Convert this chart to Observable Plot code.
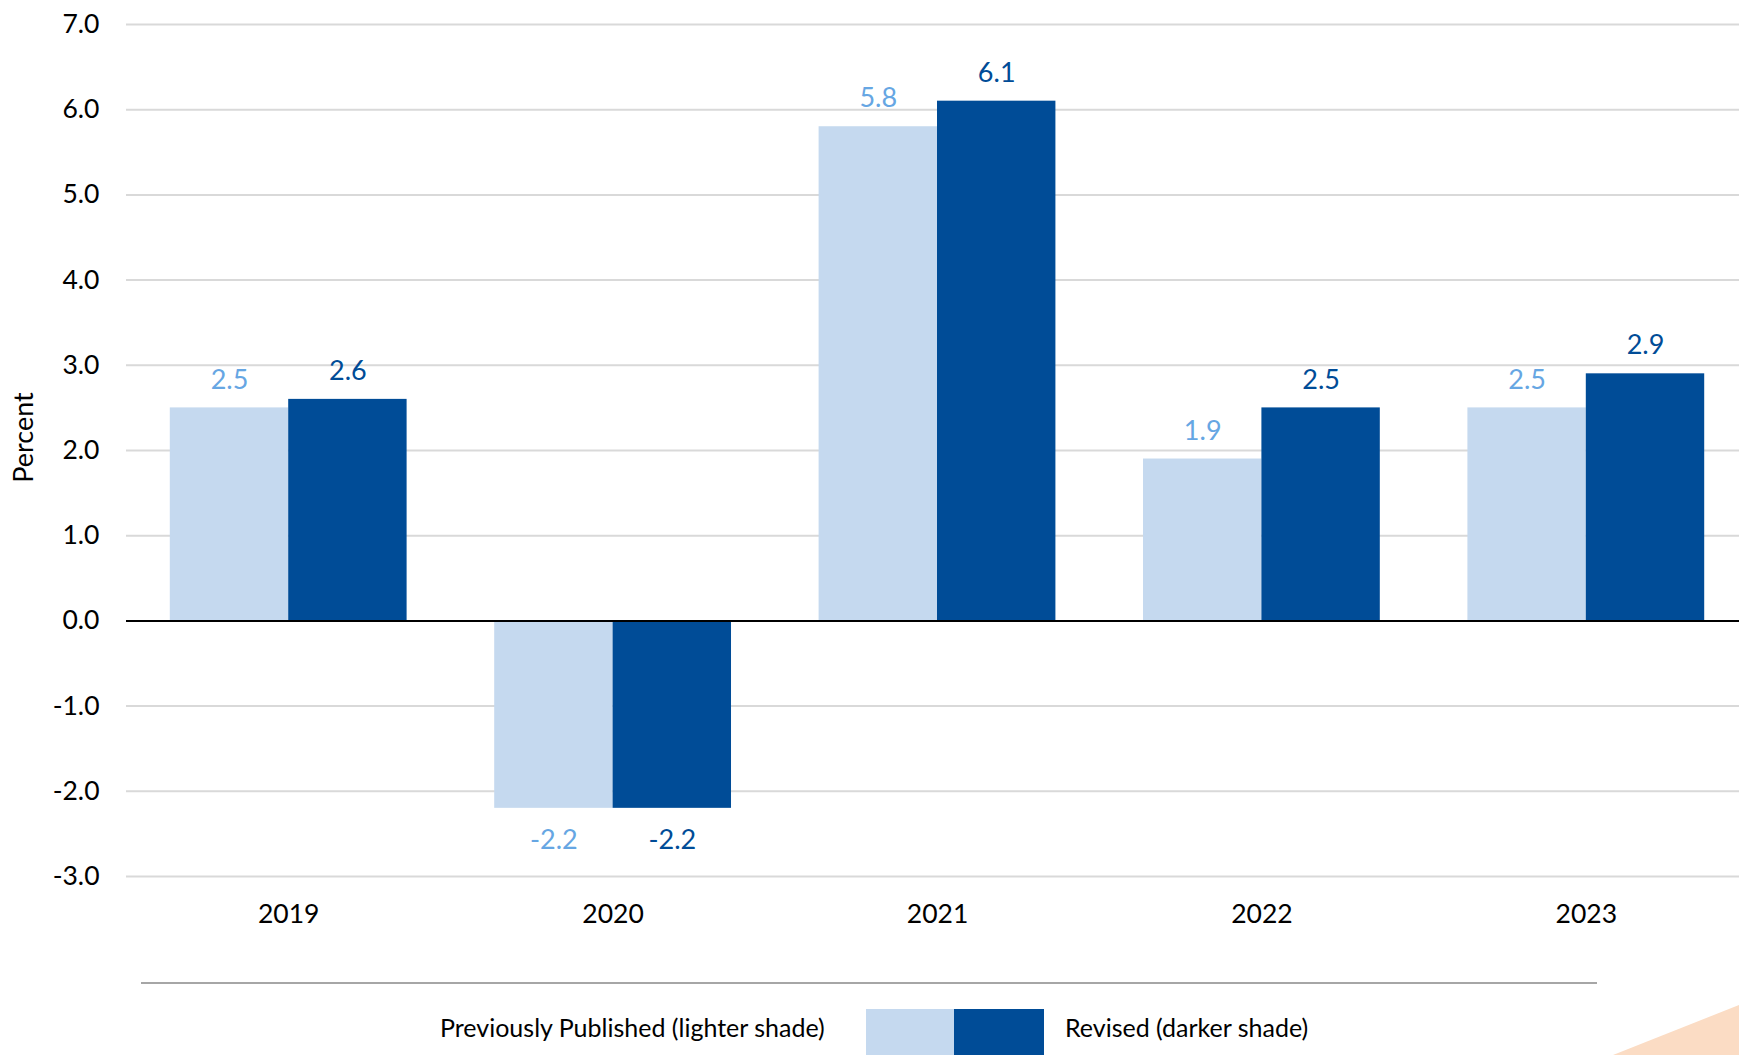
<!DOCTYPE html>
<html>
<head>
<meta charset="utf-8">
<script src="https://cdn.jsdelivr.net/npm/d3@7"></script>
<script src="https://cdn.jsdelivr.net/npm/@observablehq/plot@0.6"></script>
<style>
  html, body { margin: 0; padding: 0; background: #fff; overflow: hidden; }
  #page { position: relative; width: 1739px; height: 1055px; font-family: Lato, "Open Sans", sans-serif; }
  #chart { position: absolute; left: 0; top: 0; }
  #sep { position: absolute; left: 141px; top: 982px; width: 1456px; height: 2px; background: #a6a6a6; }
  .legtext { position: absolute; font-size: 25px; color: #000; line-height: 1; white-space: nowrap; }
  .sw { position: absolute; top: 1009px; height: 50px; }
  #corner { position: absolute; left: 1613px; top: 1005px; width: 126px; height: 50px; background: #fbdcc4; clip-path: polygon(0 100%, 100% 0, 100% 100%); }
</style>
</head>
<body>
<div id="page">
  <div id="chart"></div>
  <div id="sep"></div>
  <div id="legend"></div>
  <div id="corner"></div>
</div>
<script>
// ---- data ----
const years = [2019, 2020, 2021, 2022, 2023];
const previouslyPublished = [2.5, -2.2, 5.8, 1.9, 2.5];
const revised = [2.6, -2.2, 6.1, 2.5, 2.9];
const yTicks = [-3, -2, -1, 0, 1, 2, 3, 4, 5, 6, 7];
const seriesNames = ["Previously Published (lighter shade)", "Revised (darker shade)"];

// ---- styles ----
const lightFill = "#c5d9ef";
const darkFill = "#004c97";
const lightText = "#66a6e3";
const darkText = "#004c97";
const barW = 0.365;

const prev = years.map((year, i) => ({year, value: previouslyPublished[i]}));
const rev = years.map((year, i) => ({year, value: revised[i]}));

const fmt = d => d.toFixed(1);

const chart = Plot.plot({
  width: 1739,
  height: 945,
  marginTop: 24,
  marginBottom: 69,
  marginLeft: 126,
  marginRight: 0,
  style: {fontFamily: "Lato, 'Open Sans', sans-serif", fontSize: "26.5px", color: "#000", background: "#fff", overflow: "visible"},
  x: {type: "linear", domain: [2018.5, 2023.5], range: [126, 1748], ticks: years, tickFormat: d => String(d), tickSize: 0, tickPadding: 28, label: null},
  y: {domain: [-3, 7], ticks: yTicks, tickFormat: fmt, tickSize: 0, tickPadding: 27, label: null},
  marks: [
    Plot.ruleY(yTicks.filter(d => d !== 0), {stroke: "#d9d9d9", strokeWidth: 2}),
    Plot.rectY(prev, {x1: d => d.year - barW, x2: d => d.year, y1: 0, y2: "value", fill: lightFill}),
    Plot.rectY(rev, {x1: d => d.year, x2: d => d.year + barW, y1: 0, y2: "value", fill: darkFill}),
    Plot.ruleY([0], {stroke: "#000", strokeWidth: 2}),
    Plot.text(prev.filter(d => d.value >= 0), {x: d => d.year - barW / 2, y: "value", text: d => fmt(d.value), dy: -28, fontSize: 27, fill: lightText}),
    Plot.text(prev.filter(d => d.value < 0), {x: d => d.year - barW / 2, y: "value", text: d => fmt(d.value), dy: 32, fontSize: 27, fill: lightText}),
    Plot.text(rev.filter(d => d.value >= 0), {x: d => d.year + barW / 2, y: "value", text: d => fmt(d.value), dy: -28, fontSize: 27, fill: darkText}),
    Plot.text(rev.filter(d => d.value < 0), {x: d => d.year + barW / 2, y: "value", text: d => fmt(d.value), dy: 32, fontSize: 27, fill: darkText}),
    Plot.text(["Percent"], {frameAnchor: "left", textAnchor: "middle", rotate: -90, dx: -102, dy: -13, fontSize: 27, fill: "#000"})
  ]
});
document.getElementById("chart").appendChild(chart);

// ---- legend ----
const legend = document.getElementById("legend");
const t1 = document.createElement("div");
t1.className = "legtext"; t1.textContent = seriesNames[0];
t1.style.left = "440px"; t1.style.top = "1015px";
legend.appendChild(t1);
const s1 = document.createElement("div");
s1.className = "sw"; s1.style.left = "866px"; s1.style.width = "88px"; s1.style.background = lightFill;
legend.appendChild(s1);
const s2 = document.createElement("div");
s2.className = "sw"; s2.style.left = "954px"; s2.style.width = "90px"; s2.style.background = darkFill;
legend.appendChild(s2);
const t2 = document.createElement("div");
t2.className = "legtext"; t2.textContent = seriesNames[1];
t2.style.left = "1065px"; t2.style.top = "1015px";
legend.appendChild(t2);
</script>
</body>
</html>
